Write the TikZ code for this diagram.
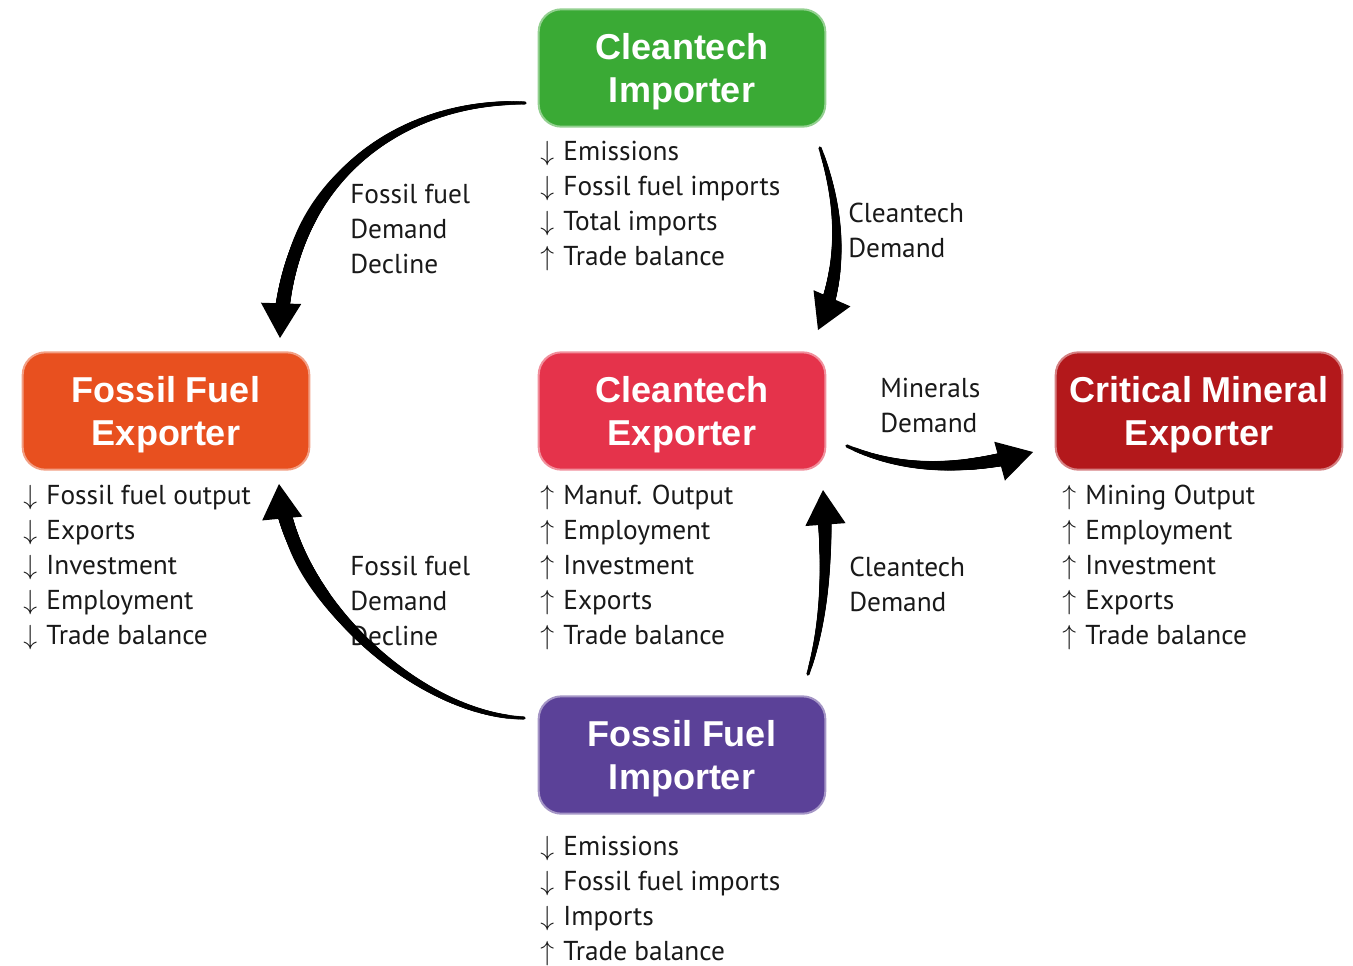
\documentclass[tikz,border=0pt]{standalone}
\usepackage{fontspec}
\usetikzlibrary{arrows.meta,decorations.markings}
\newfontfamily\boxfont{Liberation Sans}
\newfontfamily\listfont{PT Sans}
\definecolor{cgreen}{HTML}{3AAA35}
\definecolor{corange}{HTML}{E8501F}
\definecolor{cpink}{HTML}{E5334B}
\definecolor{cdred}{HTML}{B3181B}
\definecolor{cpurple}{HTML}{5B4198}
\newcommand\dnar{$\downarrow$\hspace{7pt}}
\newcommand\upar{$\uparrow$\hspace{7pt}}
\newcommand\boxtxt[2]{\begin{tabular}{@{}c@{}}#1\\#2\end{tabular}}
\tikzset{
  box/.style={rounded corners=17pt, minimum width=215pt, minimum height=88pt,
    fill=#1, draw=#1!55, line width=1.5pt, text=white, align=center,
    font=\boxfont\bfseries\fontsize{27}{32.25}\selectfont},
  boxlabel/.style={inner sep=0pt, text=white,
    font=\boxfont\bfseries\fontsize{27}{32.25}\selectfont},
  lst/.style={anchor=base west, inner sep=0pt, text=black!90,
    font=\listfont\fontsize{20.5}{26.25}\selectfont},
  taper/.style={postaction={decorate, decoration={markings,
     mark=between positions 0 and -20pt step 0.6pt with {
       \pgfmathsetmacro\rr{1.3+4.5*\pgfkeysvalueof{/pgf/decoration/mark info/distance from start}/\pgfdecoratedpathlength}
       \fill[black] (0,0) circle[radius=\rr pt];}}}},
  flow/.style={draw=black, line width=1pt, -{Triangle[width=30pt,length=26pt]}, taper},
}
\begin{document}
\begin{tikzpicture}[x=0.75pt,y=-0.75pt]
\useasboundingbox (0,0) rectangle (1353,965);
% boxes
\node[box=cgreen]  (ci) at (682,68)  {};
\node[box=corange] (fe) at (166,411) {};
\node[box=cpink]   (ce) at (682,411) {};
\node[box=cdred]   (cm) at (1199,411) {};
\node[box=cpurple] (fi) at (682,755) {};
\node[boxlabel] (cit) at ([yshift=-3pt]ci.center) {\boxtxt{Cleantech}{Importer}};
\node[boxlabel] (fet) at ([yshift=-3pt]fe.center) {\boxtxt{Fossil Fuel}{Exporter}};
\node[boxlabel] (cet) at ([yshift=-3pt]ce.center) {\boxtxt{Cleantech}{Exporter}};
\node[boxlabel] (cmt) at ([yshift=-3pt]cm.center) {\boxtxt{Critical Mineral}{Exporter}};
\node[boxlabel] (fit) at ([yshift=-3pt]fi.center) {\boxtxt{Fossil Fuel}{Importer}};
% lists
\node[lst] (cil) at (540,160) {\begin{tabular}[t]{@{}l@{}}\dnar Emissions\\ \dnar Fossil fuel imports\\ \dnar Total imports\\ \upar Trade balance\end{tabular}};
\node[lst] (fel) at (23,504) {\begin{tabular}[t]{@{}l@{}}\dnar Fossil fuel output\\ \dnar Exports\\ \dnar Investment\\ \dnar Employment\\ \dnar Trade balance\end{tabular}};
\node[lst] (cel) at (540,504) {\begin{tabular}[t]{@{}l@{}}\upar Manuf. Output\\ \upar Employment\\ \upar Investment\\ \upar Exports\\ \upar Trade balance\end{tabular}};
\node[lst] (cml) at (1062,504) {\begin{tabular}[t]{@{}l@{}}\upar Mining Output\\ \upar Employment\\ \upar Investment\\ \upar Exports\\ \upar Trade balance\end{tabular}};
\node[lst] (fil) at (540,855) {\begin{tabular}[t]{@{}l@{}}\dnar Emissions\\ \dnar Fossil fuel imports\\ \dnar Imports\\ \upar Trade balance\end{tabular}};
% arrow labels
\node[lst] (l1) at (350,203) {\begin{tabular}[t]{@{}l@{}}Fossil fuel\\ Demand\\ Decline\end{tabular}};
\node[lst] (l2) at (848,222) {\begin{tabular}[t]{@{}l@{}}Cleantech\\ Demand\end{tabular}};
\node[lst] (l3) at (880,397) {\begin{tabular}[t]{@{}l@{}}Minerals\\ Demand\end{tabular}};
\node[lst] (l4) at (350,575) {\begin{tabular}[t]{@{}l@{}}Fossil fuel\\ Demand\\ Decline\end{tabular}};
\node[lst] (l5) at (849,576) {\begin{tabular}[t]{@{}l@{}}Cleantech\\ Demand\end{tabular}};
% arrow end points
\coordinate (a1s) at (525,103); \coordinate (a1e) at (280,338);
\coordinate (a2s) at (820,148); \coordinate (a2e) at (818,330);
\coordinate (a3s) at (847,446); \coordinate (a3e) at (1033,452);
\coordinate (a4s) at (524,718); \coordinate (a4e) at (279,484);
\coordinate (a5s) at (808,674); \coordinate (a5e) at (823,490);
% arrows
\draw[flow] (a1s) .. controls (400,100) and (285,180) .. (a1e);
\draw[flow] (a2s) .. controls (845,220) and (840,280) .. (a2e);
\draw[flow] (a3s) .. controls (900,470) and (960,472) .. (a3e);
\draw[flow] (a4s) .. controls (420,715) and (290,600) .. (a4e);
\draw[flow] (a5s) .. controls (825,620) and (828,560) .. (a5e);
\end{tikzpicture}
\end{document}
